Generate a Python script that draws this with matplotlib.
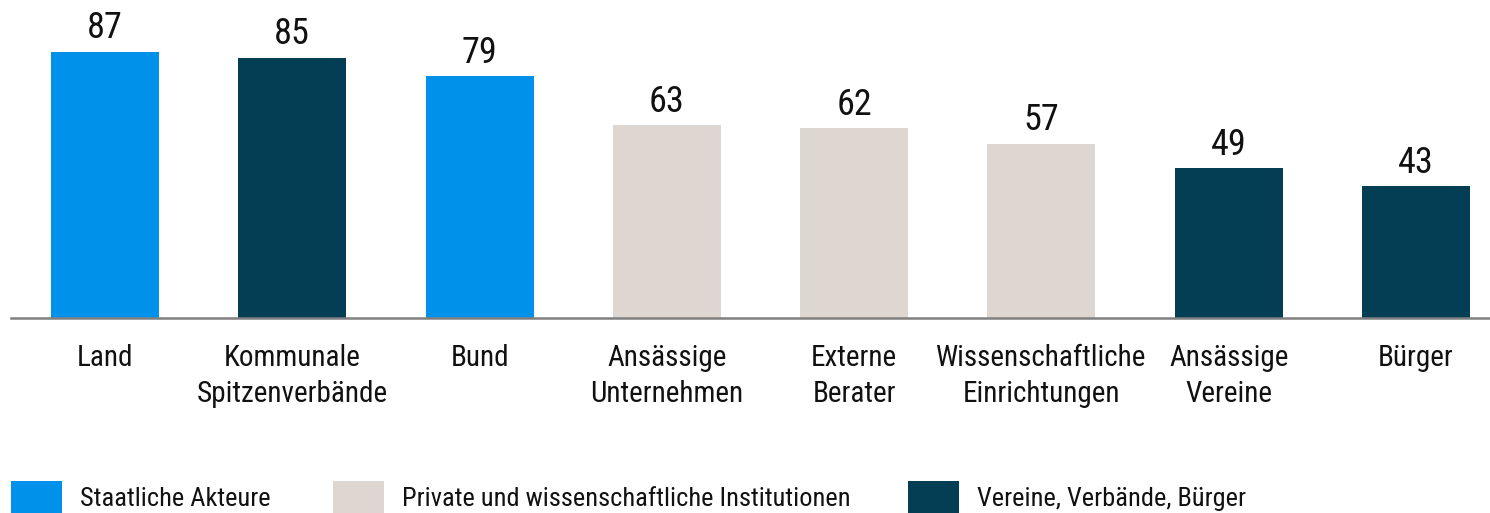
import matplotlib
matplotlib.use("Agg")
import matplotlib.pyplot as plt
from matplotlib.patches import Rectangle

plt.rcParams['font.family'] = ['Roboto Condensed', 'Liberation Sans', 'DejaVu Sans']

categories = ["Land", "Kommunale\nSpitzenverbände", "Bund", "Ansässige\nUnternehmen",
              "Externe\nBerater", "Wissenschaftliche\nEinrichtungen", "Ansässige\nVereine", "Bürger"]
values = [87, 85, 79, 63, 62, 57, 49, 43]
groups = [0, 2, 0, 1, 1, 1, 2, 2]
group_labels = ["Staatliche Akteure", "Private und wissenschaftliche Institutionen", "Vereine, Verbände, Bürger"]
group_colors = ["#0091EA", "#DED7D1", "#033E54"]

W, H = 1490, 513
fig = plt.figure(figsize=(W / 100, H / 100), dpi=100)
ax = fig.add_axes([11 / W, 195 / H, (W - 11) / W, 306 / H])

x = list(range(len(categories)))
bars = ax.bar(x, values, width=0.577, color=[group_colors[g] for g in groups])
ax.bar_label(bars, labels=[str(v) for v in values], padding=4, fontsize=26, color="#111111")

ax.set_xlim(-0.502, 7.395)
ax.set_ylim(0, 100)
ax.set_xticks(x)
ax.set_xticklabels(categories, fontsize=21, color="#111111", linespacing=1.36)
ax.tick_params(axis='x', length=0, pad=19)
ax.set_yticks([])
for s in ["top", "right", "left"]:
    ax.spines[s].set_visible(False)
ax.spines["bottom"].set_color("#808080")
ax.spines["bottom"].set_linewidth(1.8)

# legend
leg_x = [11, 333, 908]
for i, (lab, col) in enumerate(zip(group_labels, group_colors)):
    fig.patches.append(Rectangle((leg_x[i] / W, 0), 51 / W, 32 / H, transform=fig.transFigure,
                                 facecolor=col, edgecolor="none"))
    fig.text((leg_x[i] + 69) / W, 7 / H, lab, fontsize=19, va="baseline", ha="left", color="#111111")

fig.savefig("out.png", dpi=100)
